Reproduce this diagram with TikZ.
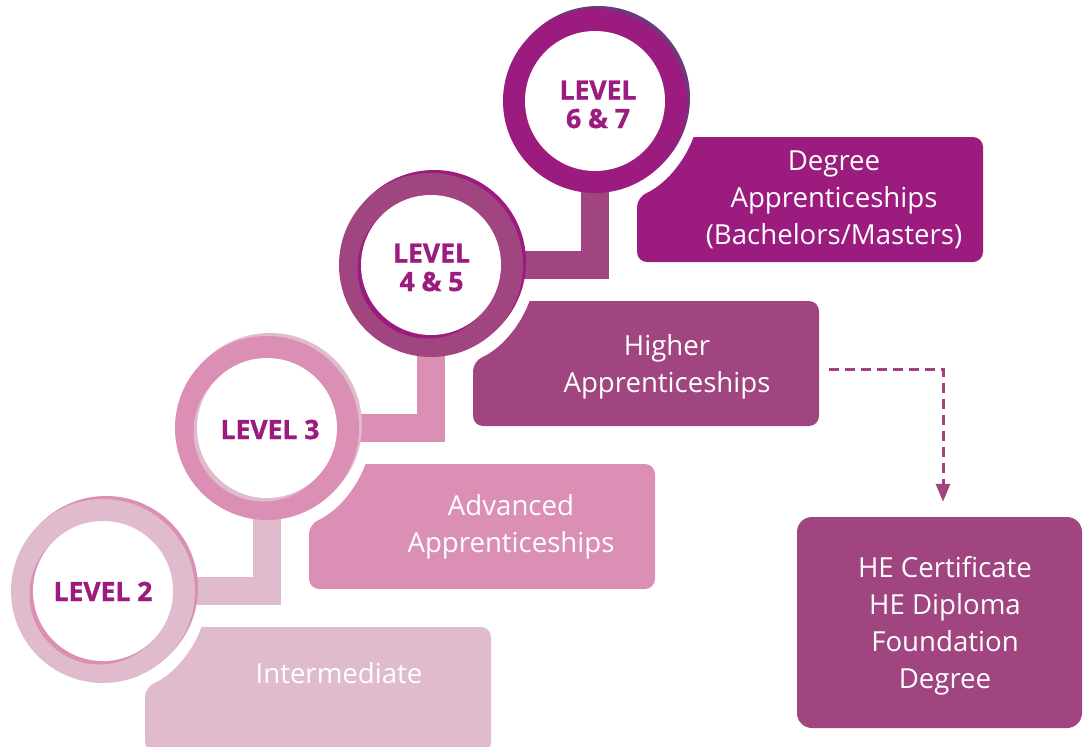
\documentclass[tikz,border=0pt]{standalone}
\usepackage{fontspec}
\setmainfont{Open Sans}
\newfontfamily\lvlfont{Open Sans}[BoldFeatures={FakeBold=1.2}]
\usetikzlibrary{arrows.meta}
\definecolor{cA}{HTML}{9B1B7F}
\definecolor{cB}{HTML}{A0457F}
\definecolor{cC}{HTML}{DB8FB5}
\definecolor{cD}{HTML}{E0BACD}
\definecolor{cS}{HTML}{6B3A7D}
\tikzset{
  boxtext/.style={text=white, font=\fontsize{27.6}{37}\selectfont, align=center, anchor=base, inner sep=0pt},
  lvltext/.style={text=cA, font=\lvlfont\fontsize{26.5}{28.5}\selectfont\bfseries, align=center, anchor=base, inner sep=0pt},
  bar/.style={line width=28pt},
  ring/.style={circle, inner sep=0pt, minimum size=184pt},
  disc/.style={circle, inner sep=0pt, minimum size=140pt, fill=white},
  dasharrow/.style={draw=cB, line width=3pt, dash pattern=on 10pt off 6pt, -{Triangle[length=18pt,width=14pt]}, shorten >=15pt},
}
% level ring: name, cx, cy, ring colour, outer shadow colour, inner shadow colour
\newcommand\levelring[6]{%
  \fill[#5] (#2+3,#3+3) circle[radius=92pt];
  \node[ring, fill=#4] (#1) at (#2,#3) {};
  \fill[#6] (#2-3.5,#3-3.5) circle[radius=70pt];
  \node[disc] (#1w) at (#2,#3) {};
}
% box with cut corner: cx, cy, colour
\newcommand\cutbox[3]{%
  \fill[#3, rounded corners=10pt] (#1+98.6,#2-36) -- (#1+388,#2-36) -- (#1+388,#2-161) -- (#1+42,#2-161) -- (#1+42,#2-96.2) [sharp corners] arc[start angle=-66.4, end angle=-20.06, radius=105pt] -- cycle;
}
\begin{document}
\begin{tikzpicture}[x=1pt,y=1pt]
\useasboundingbox (0,0) rectangle (1085,-747);
\fill[white] (0,0) rectangle (1085,-747);
\coordinate (p2) at (103,-591);
\coordinate (p3) at (267,-428);
\coordinate (p45) at (431,-265);
\coordinate (p67) at (595,-101);
% connectors
\draw[bar, cB] (p67) |- (p45);
\draw[bar, cC] (p45) |- (p3);
\draw[bar, cD] (p3) |- (p2);
% rings
\levelring{c67}{595}{-101}{cA}{cS}{cA}
\levelring{c45}{431}{-265}{cB}{cA}{cA}
\levelring{c3}{267}{-428}{cC}{cD}{cD}
\levelring{c2}{103}{-591}{cD}{cC}{cC}
\node[lvltext] (l67) at (598,-128) {LEVEL\\6 \& 7};
\node[lvltext] (l45) at (431.5,-291) {LEVEL\\4 \& 5};
\node[lvltext] (l3) at (270,-439) {LEVEL 3};
\node[lvltext] (l2) at (103,-601) {LEVEL 2};
% boxes
\cutbox{595}{-101}{cA}
\cutbox{431}{-265}{cB}
\cutbox{267}{-428}{cC}
\cutbox{103}{-591}{cD}
\node[boxtext] (t67) at (834,-244) {Degree\\Apprenticeships\\(Bachelors/Masters)};
\node[boxtext] (t45) at (667,-392) {Higher\\Apprenticeships};
\node[boxtext] (t3) at (511,-552) {Advanced\\Apprenticeships};
\node[boxtext] (t2) at (339,-683) {Intermediate};
% HE box
\node[fill=cB, rounded corners=15pt, minimum width=285pt, minimum height=211pt, inner sep=0pt] (he) at (939.5,-622.5) {};
\node[boxtext] (het) at (945,-688) {HE Certificate\\HE Diploma\\Foundation\\Degree};
\coordinate (hs) at (829,-369);
\draw[dasharrow] (hs) -| ([xshift=3.5pt]he.north);
\end{tikzpicture}
\end{document}
